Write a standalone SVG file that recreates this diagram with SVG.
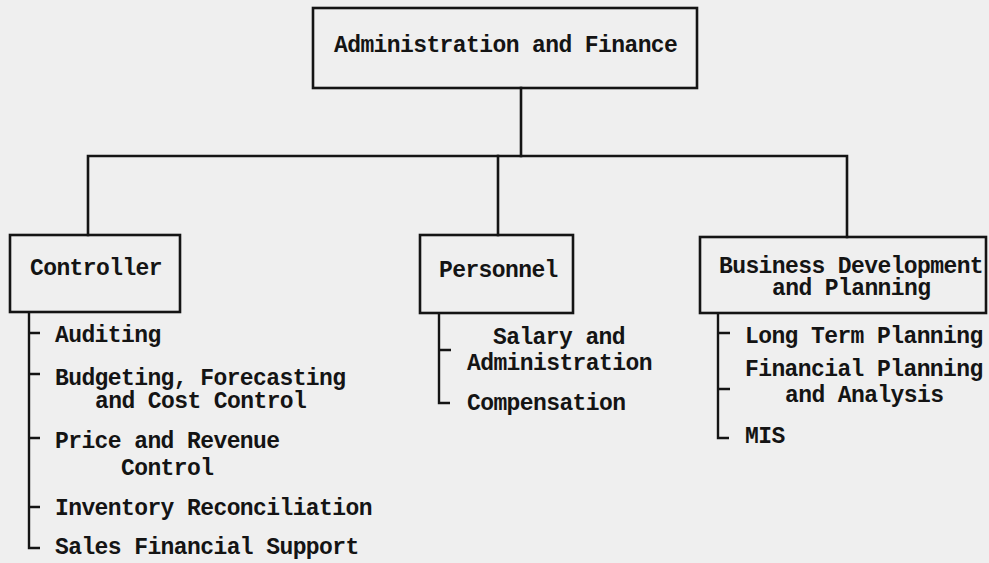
<svg xmlns="http://www.w3.org/2000/svg" width="989" height="563" viewBox="0 0 989 563">
  <style>
    .box { fill: none; stroke: #141414; stroke-width: 2.6; }
    .wire { fill: none; stroke: #141414; stroke-width: 2.6; stroke-linecap: square; }
    .sub { fill: none; stroke: #141414; stroke-width: 2.4; }
    text { font-family: "Liberation Mono", "Courier New", monospace; font-weight: bold; font-size: 23px; letter-spacing: -0.6px; fill: #141414; }
  </style>
  <rect x="0" y="0" width="989" height="563" fill="#efefef"/>

  <!-- tree connectors -->
  <g id="connectors">
    <path class="wire" d="M521 88 V156"/>
    <path class="wire" d="M88 235 V156 H847 V237"/>
    <path class="wire" d="M498 156 V235"/>
  </g>

  <g id="admin-finance">
    <rect class="box" x="313" y="8" width="384" height="80"/>
    <text x="334" y="52">Administration and Finance</text>
  </g>

  <g id="controller">
    <rect class="box" x="10" y="235" width="170" height="77"/>
    <text x="30" y="275">Controller</text>
    <path class="sub" d="M29 312 V548 H40 M29 333 H40 M29 374 H40 M29 438 H40 M29 507 H40"/>
    <text x="55" y="342">Auditing</text>
    <text x="55" y="385">Budgeting, Forecasting</text>
    <text x="95" y="408">and Cost Control</text>
    <text x="55" y="448">Price and Revenue</text>
    <text x="121" y="475">Control</text>
    <text x="55" y="515">Inventory Reconciliation</text>
    <text x="55" y="554">Sales Financial Support</text>
  </g>

  <g id="personnel">
    <rect class="box" x="420" y="235" width="153" height="78"/>
    <text x="439" y="277">Personnel</text>
    <path class="sub" d="M439 313 V403 H450 M439 350 H451"/>
    <text x="493" y="344">Salary and</text>
    <text x="467" y="370">Administration</text>
    <text x="467" y="410">Compensation</text>
  </g>

  <g id="business-development">
    <rect class="box" x="700" y="237" width="286" height="76"/>
    <text x="719" y="273">Business Development</text>
    <text x="772" y="295">and Planning</text>
    <path class="sub" d="M718 313 V438 H729 M718 333 H730 M718 389 H730"/>
    <text x="745" y="343">Long Term Planning</text>
    <text x="745" y="376">Financial Planning</text>
    <text x="785" y="402">and Analysis</text>
    <text x="745" y="443">MIS</text>
  </g>
</svg>
